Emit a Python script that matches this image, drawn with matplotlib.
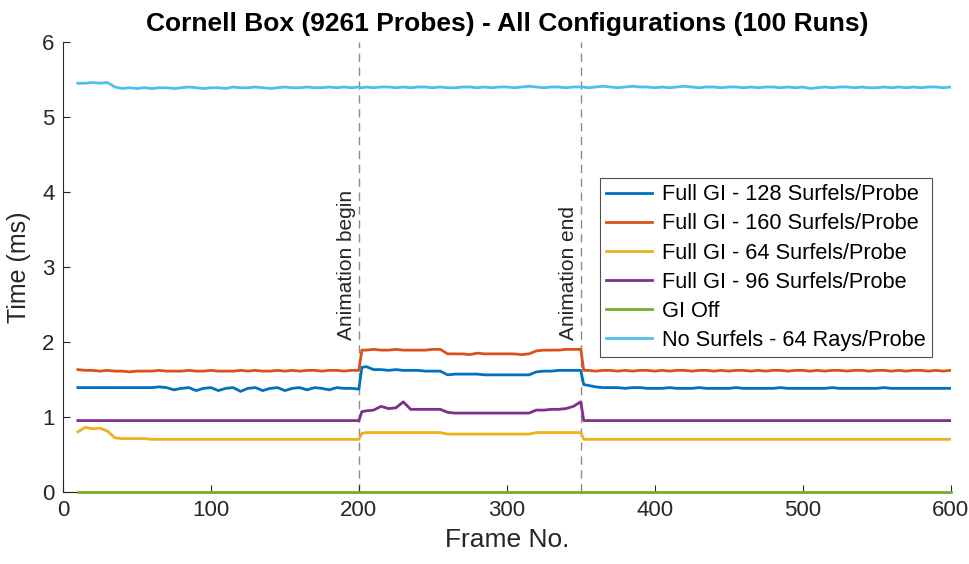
import matplotlib
matplotlib.use('Agg')
import matplotlib.pyplot as plt

plt.rcParams['font.family'] = ['Liberation Sans', 'DejaVu Sans']

# Sample frames: every 5 frames, plus extra samples right at the animation start/end
frames = (list(range(10, 200, 5)) + [200, 202] +
          list(range(205, 350, 5)) + [350, 352] +
          list(range(355, 601, 5)))

# Mean frame time (ms) per configuration
gi_128 = [1.39, 1.39, 1.39, 1.39, 1.39, 1.39, 1.39, 1.39, 1.39, 1.39,
          1.39, 1.40, 1.39, 1.36, 1.38, 1.39, 1.35, 1.38, 1.39, 1.35,
          1.38, 1.39, 1.34, 1.38, 1.39, 1.35, 1.38, 1.39, 1.35, 1.38,
          1.39, 1.36, 1.39, 1.38, 1.36, 1.39, 1.38, 1.38,
          1.37, 1.66,
          1.67, 1.63, 1.63, 1.62, 1.63, 1.62, 1.62, 1.62, 1.61, 1.61,
          1.61, 1.56, 1.57, 1.57, 1.57, 1.57, 1.56, 1.56, 1.56, 1.56,
          1.56, 1.56, 1.56, 1.60, 1.61, 1.61, 1.62, 1.62, 1.62,
          1.62, 1.43,
          1.42, 1.40, 1.39, 1.39, 1.39, 1.38, 1.39, 1.39, 1.38, 1.38,
          1.38, 1.39, 1.38, 1.38, 1.38, 1.39, 1.38, 1.38, 1.38, 1.38,
          1.39, 1.38, 1.38, 1.38, 1.38, 1.38, 1.39, 1.38, 1.38, 1.38,
          1.38, 1.38, 1.38, 1.39, 1.38, 1.38, 1.38, 1.38, 1.38, 1.38,
          1.39, 1.38, 1.38, 1.38, 1.38, 1.38, 1.38, 1.38, 1.38, 1.38]

gi_160 = [1.63, 1.62, 1.62, 1.61, 1.62, 1.61, 1.61, 1.60, 1.61, 1.61,
          1.61, 1.62, 1.61, 1.61, 1.61, 1.62, 1.61, 1.61, 1.62, 1.61,
          1.61, 1.61, 1.62, 1.61, 1.62, 1.61, 1.61, 1.62, 1.61, 1.62,
          1.61, 1.62, 1.62, 1.61, 1.62, 1.62, 1.61, 1.62,
          1.62, 1.89,
          1.89, 1.90, 1.89, 1.89, 1.90, 1.89, 1.89, 1.89, 1.89, 1.90,
          1.90, 1.84, 1.84, 1.84, 1.83, 1.85, 1.84, 1.84, 1.84, 1.84,
          1.84, 1.83, 1.84, 1.88, 1.89, 1.89, 1.89, 1.90, 1.90,
          1.90, 1.62,
          1.62, 1.61, 1.62, 1.62, 1.61, 1.62, 1.61, 1.62, 1.62, 1.61,
          1.62, 1.61, 1.62, 1.62, 1.61, 1.62, 1.62, 1.61, 1.62, 1.61,
          1.62, 1.62, 1.61, 1.62, 1.61, 1.62, 1.62, 1.61, 1.62, 1.62,
          1.61, 1.62, 1.61, 1.62, 1.62, 1.61, 1.62, 1.62, 1.61, 1.62,
          1.62, 1.61, 1.62, 1.61, 1.62, 1.62, 1.61, 1.62, 1.61, 1.62]

gi_64 = [0.80, 0.86, 0.84, 0.85, 0.81, 0.72, 0.71, 0.71, 0.71, 0.71,
         0.70, 0.70, 0.70, 0.70, 0.70, 0.70, 0.70, 0.70, 0.70, 0.70,
         0.70, 0.70, 0.70, 0.70, 0.70, 0.70, 0.70, 0.70, 0.70, 0.70,
         0.70, 0.70, 0.70, 0.70, 0.70, 0.70, 0.70, 0.70,
         0.70, 0.78,
         0.79, 0.79, 0.79, 0.79, 0.79, 0.79, 0.79, 0.79, 0.79, 0.79,
         0.79, 0.77, 0.77, 0.77, 0.77, 0.77, 0.77, 0.77, 0.77, 0.77,
         0.77, 0.77, 0.77, 0.79, 0.79, 0.79, 0.79, 0.79, 0.79,
         0.79, 0.70,
         0.70, 0.70, 0.70, 0.70, 0.70, 0.70, 0.70, 0.70, 0.70, 0.70,
         0.70, 0.70, 0.70, 0.70, 0.70, 0.70, 0.70, 0.70, 0.70, 0.70,
         0.70, 0.70, 0.70, 0.70, 0.70, 0.70, 0.70, 0.70, 0.70, 0.70,
         0.70, 0.70, 0.70, 0.70, 0.70, 0.70, 0.70, 0.70, 0.70, 0.70,
         0.70, 0.70, 0.70, 0.70, 0.70, 0.70, 0.70, 0.70, 0.70, 0.70]

gi_96 = [0.95, 0.95, 0.95, 0.95, 0.95, 0.95, 0.95, 0.95, 0.95, 0.95,
         0.95, 0.95, 0.95, 0.95, 0.95, 0.95, 0.95, 0.95, 0.95, 0.95,
         0.95, 0.95, 0.95, 0.95, 0.95, 0.95, 0.95, 0.95, 0.95, 0.95,
         0.95, 0.95, 0.95, 0.95, 0.95, 0.95, 0.95, 0.95,
         0.95, 1.07,
         1.08, 1.09, 1.14, 1.11, 1.12, 1.20, 1.10, 1.10, 1.10, 1.10,
         1.10, 1.06, 1.05, 1.05, 1.05, 1.05, 1.05, 1.05, 1.05, 1.05,
         1.05, 1.05, 1.05, 1.09, 1.09, 1.10, 1.10, 1.11, 1.14,
         1.20, 0.95,
         0.95, 0.95, 0.95, 0.95, 0.95, 0.95, 0.95, 0.95, 0.95, 0.95,
         0.95, 0.95, 0.95, 0.95, 0.95, 0.95, 0.95, 0.95, 0.95, 0.95,
         0.95, 0.95, 0.95, 0.95, 0.95, 0.95, 0.95, 0.95, 0.95, 0.95,
         0.95, 0.95, 0.95, 0.95, 0.95, 0.95, 0.95, 0.95, 0.95, 0.95,
         0.95, 0.95, 0.95, 0.95, 0.95, 0.95, 0.95, 0.95, 0.95, 0.95]

gi_off_frames = [10, 600]
gi_off = [0.0, 0.0]

no_surfels = [5.45, 5.45, 5.46, 5.45, 5.46, 5.40, 5.38, 5.39, 5.38, 5.39,
              5.38, 5.39, 5.39, 5.38, 5.39, 5.40, 5.39, 5.38, 5.39, 5.39,
              5.38, 5.40, 5.39, 5.39, 5.40, 5.39, 5.38, 5.39, 5.40, 5.39,
              5.39, 5.40, 5.39, 5.39, 5.40, 5.39, 5.40, 5.39,
              5.40, 5.39,
              5.40, 5.39, 5.40, 5.40, 5.39, 5.40, 5.39, 5.40, 5.40, 5.39,
              5.40, 5.39, 5.39, 5.40, 5.40, 5.39, 5.40, 5.39, 5.40, 5.40,
              5.39, 5.40, 5.41, 5.40, 5.39, 5.40, 5.40, 5.39, 5.40,
              5.40, 5.40,
              5.39, 5.40, 5.41, 5.40, 5.39, 5.40, 5.41, 5.40, 5.40, 5.39,
              5.40, 5.39, 5.40, 5.41, 5.40, 5.39, 5.40, 5.40, 5.39, 5.40,
              5.40, 5.39, 5.40, 5.39, 5.40, 5.40, 5.39, 5.40, 5.39, 5.40,
              5.38, 5.39, 5.40, 5.39, 5.40, 5.40, 5.39, 5.40, 5.39, 5.39,
              5.40, 5.39, 5.40, 5.39, 5.40, 5.39, 5.40, 5.40, 5.39, 5.40]

events = [200, 350]
event_labels = ['Animation begin', 'Animation end']

ink = '#262626'
fig = plt.figure(figsize=(9.7, 5.64), dpi=100)
ax = fig.add_axes([0.065, 0.128, 0.915, 0.7975])

for x, lab in zip(events, event_labels):
    ax.axvline(x, color='#8c8c8c', lw=1.0, ls=(0, (6, 4)), zorder=1)
    ax.text(x - 2, 2.03, lab, rotation=90, ha='right', va='bottom',
            fontsize=15, color=ink)

ax.plot(frames, gi_128, color='#0072BD', lw=2, zorder=3, label='Full GI - 128 Surfels/Probe')
ax.plot(frames, gi_160, color='#D95319', lw=2, zorder=3, label='Full GI - 160 Surfels/Probe')
ax.plot(frames, gi_64, color='#EDB120', lw=2, zorder=3, label='Full GI - 64 Surfels/Probe')
ax.plot(frames, gi_96, color='#7E2F8E', lw=2, zorder=3, label='Full GI - 96 Surfels/Probe')
ax.plot(gi_off_frames, gi_off, color='#77AC30', lw=2, zorder=3, label='GI Off', clip_on=False)
ax.plot(frames, no_surfels, color='#4DBEEE', lw=2, zorder=3, label='No Surfels - 64 Rays/Probe')

ax.set_xlim(0, 600)
ax.set_ylim(0, 6)
ax.set_xticks(range(0, 601, 100))
ax.set_yticks(range(0, 7))
for s in ['top', 'right']:
    ax.spines[s].set_visible(False)
for s in ['left', 'bottom']:
    ax.spines[s].set_color(ink)
    ax.spines[s].set_linewidth(0.8)
ax.tick_params(direction='in', length=5, width=0.8, colors=ink, labelsize=16, pad=6)

ax.set_xlabel('Frame No.', fontsize=19, color=ink, labelpad=5)
ax.set_ylabel('Time (ms)', fontsize=18, color=ink, labelpad=8)
ax.set_title('Cornell Box (9261 Probes) - All Configurations (100 Runs)',
             fontsize=19, fontweight='bold', pad=8)

leg = ax.legend(loc='upper right', bbox_to_anchor=(0.979, 0.698), borderaxespad=0,
                fontsize=15.7, frameon=True, fancybox=False, edgecolor='#262626',
                handlelength=2.1, handletextpad=0.45, labelspacing=0.37, borderpad=0.3)
leg.get_frame().set_linewidth(0.8)
for t in leg.get_texts():
    t.set_color('black')

fig.savefig('out.png', dpi=100)
